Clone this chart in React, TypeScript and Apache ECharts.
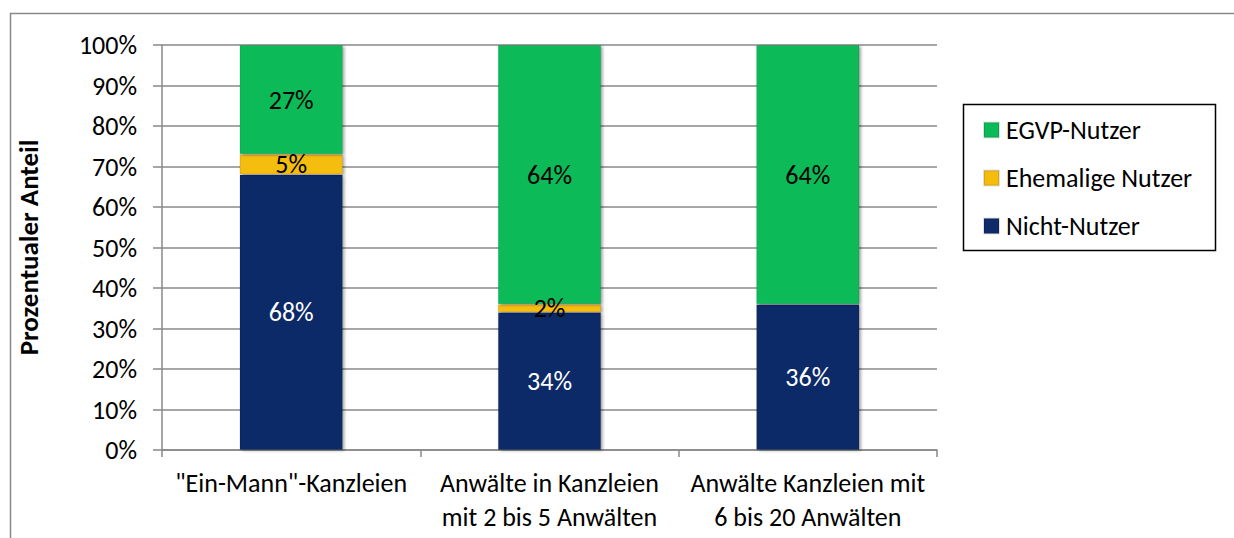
import React, { useEffect, useRef } from "react";
import * as echarts from "echarts";

const categories = [
  "\"Ein-Mann\"-Kanzleien",
  "Anwälte in Kanzleien\nmit 2 bis 5 Anwälten",
  "Anwälte Kanzleien mit\n6 bis 20 Anwälten",
];
const nichtNutzer = [68, 34, 36];
const ehemaligeNutzer = [5, 2, 0];
const egvpNutzer = [27, 64, 64];
const seriesNames = ["Nicht-Nutzer", "Ehemalige Nutzer", "EGVP-Nutzer"];
const legendOrder = ["EGVP-Nutzer", "Ehemalige Nutzer", "Nicht-Nutzer"];

const FONT = "Carlito, 'Liberation Sans', 'Noto Sans', sans-serif";
const FS = 26;

export default function App() {
  const ref = useRef<HTMLDivElement>(null);
  useEffect(() => {
    if (!ref.current) return;
    const chart = echarts.init(ref.current, null, { renderer: "svg" });
    const mk = (name: string, data: number[], color: string, labelColor: string) => ({
      name,
      type: "bar",
      stack: "total",
      barWidth: "40%",
      data: data.map((v) => (v === 0 ? null : v)),
      itemStyle: {
        color,
        borderColor: "rgba(0,0,0,0.12)",
        borderWidth: 1,
        shadowBlur: 3,
        shadowOffsetX: 2,
        shadowOffsetY: 1,
        shadowColor: "rgba(0,0,0,0.35)",
      },
      label: {
        show: true,
        position: "inside",
        formatter: (p: any) => (p.value ? p.value + "%" : ""),
        color: labelColor,
        fontSize: FS,
        fontFamily: FONT,
      },
    });
    chart.setOption({
      animation: false,
      backgroundColor: "#fff",
      textStyle: { fontFamily: FONT },
      graphic: [
        {
          type: "rect",
          shape: { x: 10.5, y: 13.5, width: 1400, height: 700 },
          style: { fill: "none", stroke: "#888", lineWidth: 1.5 },
          silent: true,
        },
        {
          type: "rect",
          shape: { x: 963.5, y: 104.5, width: 252, height: 146 },
          style: { fill: "#fff", stroke: "#000", lineWidth: 1.5 },
          silent: true,
          z: 0,
        },
      ],
      grid: { left: 162, right: 297, top: 45, bottom: 88, containLabel: false },
      legend: {
        data: legendOrder,
        orient: "vertical",
        left: 983,
        top: 117,
        padding: 0,
        itemWidth: 15,
        itemHeight: 15,
        itemGap: 22,
        icon: "rect",
        z: 10,
        textStyle: {
          fontSize: FS,
          lineHeight: 26,
          color: "#000",
          fontFamily: FONT,
          padding: [0, 0, 0, 2],
        },
      },
      xAxis: {
        type: "category",
        data: categories,
        axisLine: { lineStyle: { color: "#888", width: 1.5 } },
        axisTick: { show: true, length: 7, lineStyle: { color: "#888", width: 1.5 } },
        axisLabel: {
          color: "#000",
          fontSize: FS,
          lineHeight: 34,
          margin: 16,
          fontFamily: FONT,
          interval: 0,
        },
      },
      yAxis: {
        type: "value",
        min: 0,
        max: 100,
        interval: 10,
        name: "Prozentualer Anteil",
        nameLocation: "middle",
        nameGap: 120,
        nameTextStyle: { fontSize: 27, fontWeight: "bold", color: "#000", fontFamily: FONT },
        axisLine: { show: true, lineStyle: { color: "#888", width: 1.5 } },
        axisTick: { show: true, length: 9, lineStyle: { color: "#888", width: 1.5 } },
        axisLabel: {
          formatter: "{value}%",
          color: "#000",
          fontSize: FS,
          margin: 25,
          fontFamily: FONT,
        },
        splitLine: { lineStyle: { color: "#888", width: 1.5 } },
      },
      series: [
        mk(seriesNames[0], nichtNutzer, "#0E2A68", "#fff"),
        mk(seriesNames[1], ehemaligeNutzer, "#F5BD0B", "#000"),
        mk(seriesNames[2], egvpNutzer, "#0ABA58", "#000"),
      ],
      color: ["#0E2A68", "#F5BD0B", "#0ABA58"],
    });
    return () => chart.dispose();
  }, []);
  return (
    <div
      ref={ref}
      style={{ position: "fixed", left: 0, top: 0, width: 1234, height: 538 }}
    />
  );
}
